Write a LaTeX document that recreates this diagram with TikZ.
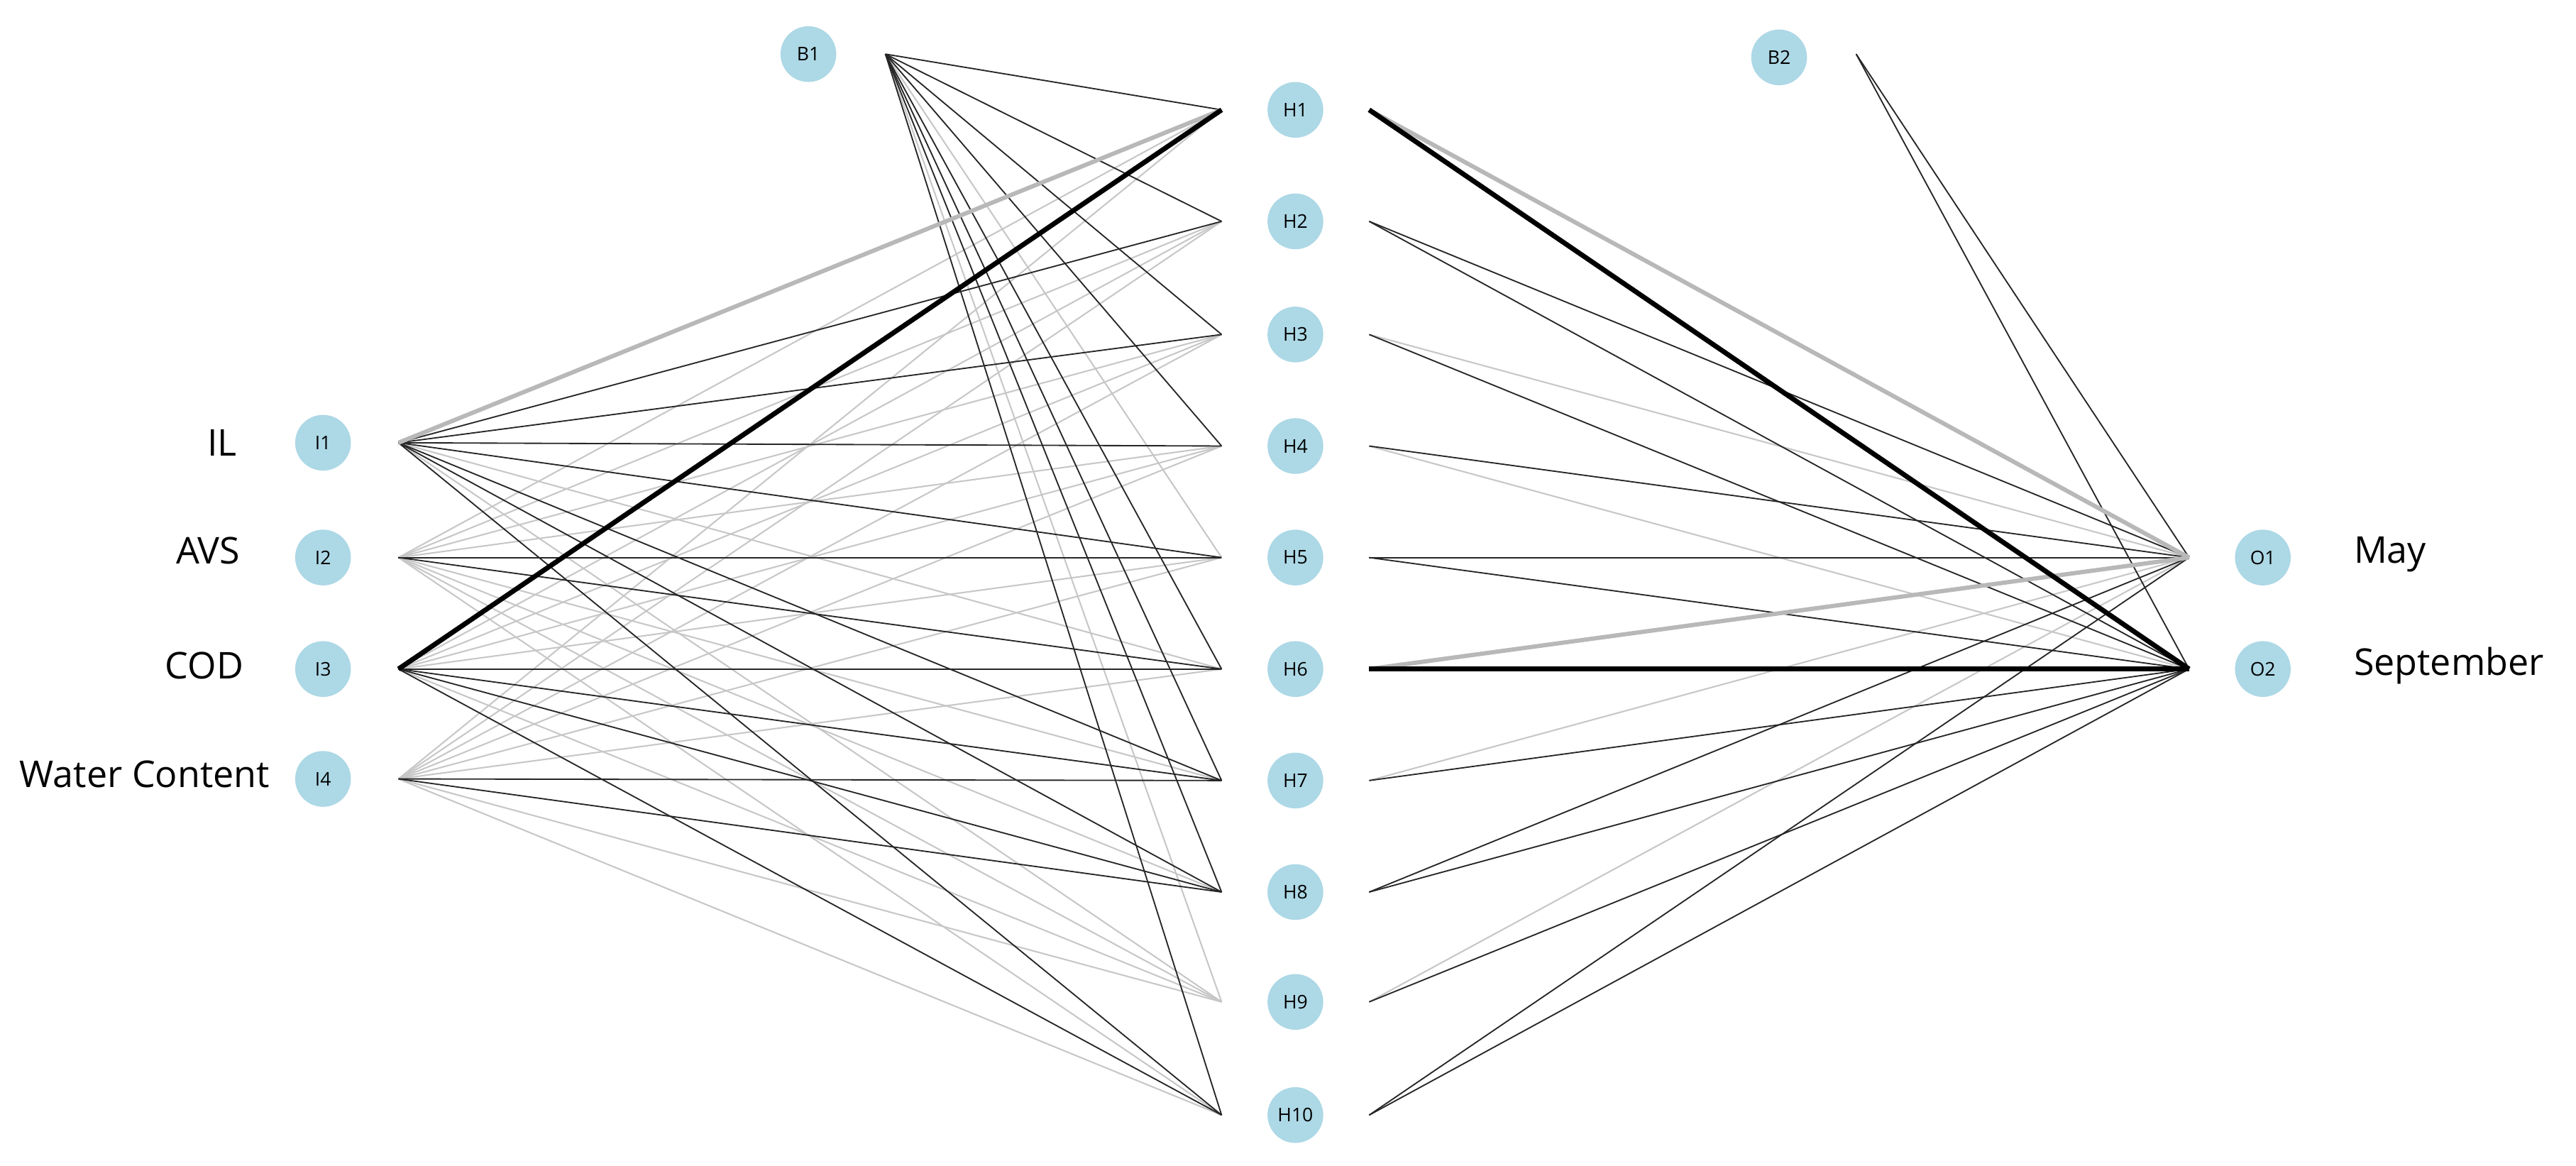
\documentclass[tikz,border=0pt]{standalone}
\usepackage{fontspec}
\setmainfont{Open Sans}
\definecolor{nb}{RGB}{173,216,230}
\begin{document}
\begin{tikzpicture}[x=1pt,y=-1pt,
 neu/.style={circle,fill=nb,minimum size=34pt,inner sep=0pt,font=\fontsize{11.5}{11.5}\selectfont},
 lab/.style={font=\fontsize{22.5}{22.5}\selectfont},
 d/.style={black!85,line width=0.8pt},
 l/.style={black!22,line width=0.9pt},
 D/.style={black,line width=3pt},
 L/.style={black!28,line width=2.6pt}]
\useasboundingbox (0,0) rectangle (1571,711);
\foreach \i/\y in {1/270,2/340,3/408,4/475}{
 \node[neu] (I\i) at (197,\y) {I\i};
 \coordinate (Ia\i) at (243,\y);}
\foreach \j/\y in {1/67,2/135,3/204,4/272,5/340,6/408,7/476,8/544,9/611,10/680}{
 \node[neu] (H\j) at (790,\y) {H\j};
 \coordinate (Hl\j) at (745,\y);
 \coordinate (Hr\j) at (835,\y);}
\node[neu] (B1) at (493,33) {B1}; \coordinate (B1a) at (540,33);
\node[neu] (B2) at (1085,35) {B2}; \coordinate (B2a) at (1132,33);
\node[neu] (O1) at (1380,340) {O1}; \coordinate (Oa1) at (1335,340);
\node[neu] (O2) at (1380,408) {O2}; \coordinate (Oa2) at (1335,408);
\node[lab,anchor=east] (tIL) at (148,270) {IL};
\node[lab,anchor=east] (tAVS) at (150,336) {AVS};
\node[lab,anchor=east] (tCOD) at (152,406) {COD};
\node[lab,anchor=east] (tWC) at (168,472) {Water Content};
\node[lab,anchor=west] (tMay) at (1432,338) {May};
\node[lab,anchor=west] (tSep) at (1432,406) {September};
% light first
\foreach \s/\lst in {1/{6,9},2/{1,2,3,4,7,8,9,10},3/{2,3,4,5,9},4/{1,2,3,4,5,6,9,10}}
 \foreach \j in \lst \draw[l] (Ia\s) -- (Hl\j);
\foreach \j in {5,9} \draw[l] (B1a) -- (Hl\j);
\foreach \j/\o in {3/1,4/2,7/1,9/1} \draw[l] (Hr\j) -- (Oa\o);
\foreach \s/\lst in {1/{2,3,4,5,7,8,10},2/{5,6},3/{6,7,8,10},4/{7,8}}
 \foreach \j in \lst \draw[d] (Ia\s) -- (Hl\j);
\foreach \j in {1,2,3,4,6,7,8,10} \draw[d] (B1a) -- (Hl\j);
\foreach \j/\o in {2/1,2/2,3/2,4/1,5/1,5/2,7/2,8/1,8/2,9/2,10/1,10/2} \draw[d] (Hr\j) -- (Oa\o);
\draw[d] (B2a) -- (Oa1); \draw[d] (B2a) -- (Oa2);
\draw[L] (Ia1) -- (Hl1);
\draw[L] (Hr1) -- (Oa1);
\draw[L] (Hr6) -- (Oa1);
\draw[D] (Ia3) -- (Hl1);
\draw[D] (Hr1) -- (Oa2);
\draw[D] (Hr6) -- (Oa2);
\end{tikzpicture}
\end{document}
